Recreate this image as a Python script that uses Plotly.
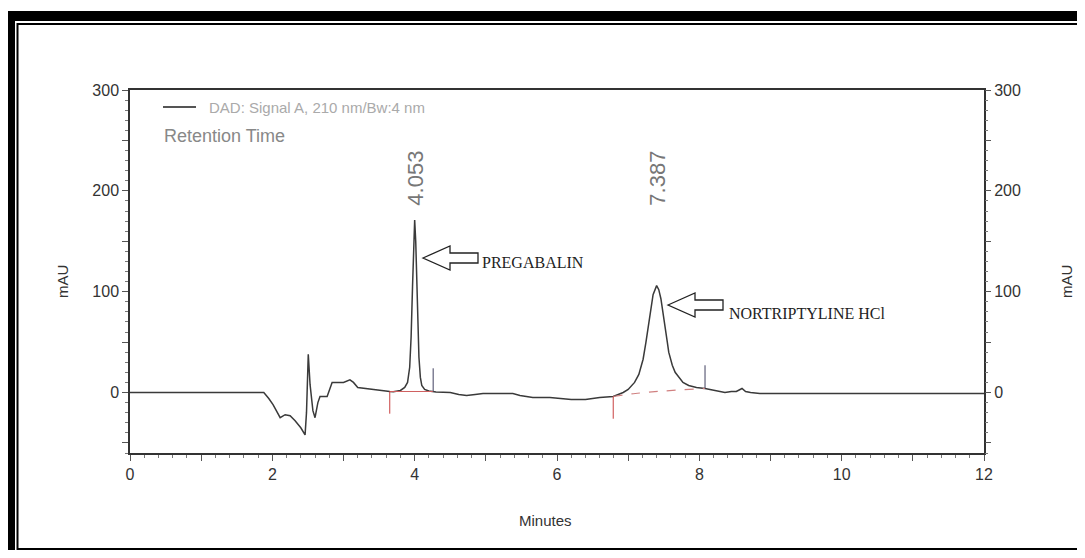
import plotly.graph_objects as go

# ---------------- data ----------------
time_min = [0.00, 1.88, 1.95, 2.01, 2.11, 2.18, 2.25, 2.32, 2.40, 2.46, 2.48, 2.505, 2.53, 2.57, 2.60,
            2.64, 2.67, 2.77, 2.80, 2.84, 2.95, 3.00, 3.09, 3.14, 3.20, 3.35, 3.51, 3.65,
            3.70, 3.80, 3.86, 3.90, 3.93, 3.95, 3.97, 3.985, 4.00, 4.015, 4.03, 4.045, 4.06, 4.08,
            4.10, 4.14, 4.20, 4.30, 4.40, 4.50, 4.62, 4.73, 4.85, 4.96, 5.20, 5.38, 5.48, 5.66,
            5.90, 6.20, 6.40, 6.60, 6.79, 6.93, 7.00, 7.09, 7.15, 7.21, 7.25, 7.28, 7.32, 7.35,
            7.40, 7.43, 7.46, 7.49, 7.52, 7.55, 7.57, 7.62, 7.66, 7.72, 7.77, 7.85, 7.96, 8.08,
            8.20, 8.29, 8.36, 8.45, 8.52, 8.60, 8.65, 8.72, 8.85, 12.00]
signal_mau = [0.0, 0.0, -6.0, -12.0, -25.0, -22.0, -23.0, -28.0, -35.0, -42.0, -20.0, 38.0, 8.0, -18.0, -25.0,
              -10.0, -4.0, -4.0, 2.0, 10.0, 10.0, 10.0, 12.5, 10.0, 5.0, 3.5, 2.5, 1.0,
              0.8, 2.0, 5.0, 10.0, 25.0, 55.0, 105.0, 150.0, 171.0, 150.0, 110.0, 65.0, 35.0, 15.0,
              7.0, 3.0, 1.5, 0.5, 0.0, 0.0, -2.0, -3.0, -2.0, -1.0, -1.0, -1.0, -3.0, -5.0,
              -5.0, -7.0, -7.0, -5.0, -4.0, 0.0, 3.0, 10.0, 18.0, 33.0, 50.0, 65.0, 85.0, 97.0,
              106.0, 102.0, 93.0, 80.0, 65.0, 50.0, 40.0, 27.0, 20.0, 14.0, 10.0, 7.0, 5.0, 4.0,
              2.0, 1.0, 0.0, 1.0, 1.0, 4.0, 1.0, 0.0, -1.0, -1.0]

# integration marks
peak_names = ["PREGABALIN", "NORTRIPTYLINE HCl"]
peak_rt_label = ["4.053", "7.387"]
peak_apex_t = [4.00, 7.40]
int_start_t = [3.65, 6.79]
int_start_v = [1.0, -4.0]
int_end_t = [4.26, 8.08]
int_end_v = [1.0, 4.0]
baseline2_t = [6.79, 7.10, 7.50, 8.08]
baseline2_v = [-4.0, -1.0, 1.5, 4.0]

x_ticks = list(range(0, 13))
x_tick_text = [str(v) if v % 2 == 0 else "" for v in x_ticks]
y_ticks = [-50, 0, 50, 100, 150, 200, 250, 300]
y_tick_text = ["", "0", "", "100", "", "200", "", "300"]

# ---------------- layout geometry (page pixels; page body has an 8px margin) ----------------
O = 8
W, H = 1069, 542
L, R, T, B = 130, 984, 90, 453


def px(x):
    return (x - L) / (R - L)


def py(y):
    return (B - y) / (B - T)


fig = go.Figure()

fig.add_trace(go.Scatter(x=time_min, y=signal_mau, mode="lines",
                         line=dict(color="#3a3a3a", width=1.5), hoverinfo="x+y", showlegend=False))
# invisible copy on the right axis so it renders its labels
fig.add_trace(go.Scatter(x=time_min, y=signal_mau, mode="lines", yaxis="y2",
                         line=dict(color="rgba(0,0,0,0)", width=0), hoverinfo="skip", showlegend=False))

# integration baselines and markers
fig.add_trace(go.Scatter(x=[int_start_t[0], int_end_t[0]], y=[int_start_v[0], int_end_v[0]], mode="lines",
                         line=dict(color="#d06060", width=1), hoverinfo="skip", showlegend=False))
fig.add_trace(go.Scatter(x=baseline2_t, y=baseline2_v, mode="lines", line_shape="spline",
                         line=dict(color="#d08080", width=1.2, dash="dash"), hoverinfo="skip", showlegend=False))
for i in range(2):
    fig.add_trace(go.Scatter(x=[int_start_t[i], int_start_t[i]], y=[int_start_v[i], int_start_v[i] - 22],
                             mode="lines", line=dict(color="#c84040", width=1), hoverinfo="skip", showlegend=False))
    fig.add_trace(go.Scatter(x=[int_end_t[i], int_end_t[i]], y=[int_end_v[i], int_end_v[i] + 23],
                             mode="lines", line=dict(color="#404060", width=1), hoverinfo="skip", showlegend=False))

axis_font = dict(family="Liberation Sans, Arial, sans-serif", size=16, color="#333")

shapes = [
    # picture frame
    dict(type="rect", xref="paper", yref="paper", x0=px(8), x1=px(1110), y0=py(11), y1=py(580),
         fillcolor="black", line=dict(width=0), layer="below"),
    dict(type="rect", xref="paper", yref="paper", x0=px(15), x1=px(1110), y0=py(21), y1=py(554.5),
         fillcolor="white", line=dict(width=0), layer="below"),
    dict(type="rect", xref="paper", yref="paper", x0=px(17.5), x1=px(1110), y0=py(24), y1=py(549),
         fillcolor="rgba(0,0,0,0)", line=dict(color="black", width=2), layer="below"),
    # legend sample
    dict(type="line", xref="paper", yref="paper", x0=px(163), x1=px(196), y0=py(107), y1=py(107),
         line=dict(color="#555", width=2)),
]


def arrow_path(tip_x, tip_y):
    pts = [(tip_x, tip_y), (tip_x + 27, tip_y - 12), (tip_x + 27, tip_y - 5), (tip_x + 55, tip_y - 5),
           (tip_x + 55, tip_y + 5), (tip_x + 27, tip_y + 5), (tip_x + 27, tip_y + 12)]
    s = "M " + " L ".join(f"{px(a):.5f} {py(b):.5f}" for a, b in pts) + " Z"
    return s


arrow_tips = [(423, 258), (668, 305)]
for tx, ty in arrow_tips:
    shapes.append(dict(type="path", xref="paper", yref="paper", path=arrow_path(tx, ty),
                       fillcolor="white", line=dict(color="#222", width=1.3)))

annotations = [
    dict(x=px(207), y=py(107), xref="paper", yref="paper", text="DAD: Signal A, 210 nm/Bw:4 nm",
         showarrow=False, xanchor="left", yanchor="middle",
         font=dict(family="Liberation Sans, Arial, sans-serif", size=15, color="#aaaaaa")),
    dict(x=px(162), y=py(136), xref="paper", yref="paper", text="Retention Time",
         showarrow=False, xanchor="left", yanchor="middle",
         font=dict(family="Liberation Sans, Arial, sans-serif", size=18, color="#888888")),
    dict(x=px(62), y=py(282), xref="paper", yref="paper", text="mAU", textangle=-90,
         showarrow=False, xanchor="center", yanchor="middle", font=dict(**{**axis_font, "size": 15})),
    dict(x=px(1066), y=py(282), xref="paper", yref="paper", text="mAU", textangle=-90,
         showarrow=False, xanchor="center", yanchor="middle", font=dict(**{**axis_font, "size": 15})),
    dict(x=px(545), y=py(520), xref="paper", yref="paper", text="Minutes",
         showarrow=False, xanchor="center", yanchor="middle", font=dict(**{**axis_font, "size": 15})),
]
# retention time labels above apexes
for t_apex, lab in zip(peak_apex_t, peak_rt_label):
    annotations.append(dict(x=t_apex, y=py(178), xref="x", yref="paper", text=lab, textangle=-90,
                            showarrow=False, xanchor="center", yanchor="middle",
                            font=dict(family="Liberation Sans, Arial, sans-serif", size=22, color="#777")))
# compound names
name_pos = [(480, 262), (727, 313)]
name_size = [16, 16]
for (nx, ny), nm, sz in zip(name_pos, peak_names, name_size):
    annotations.append(dict(x=px(nx), y=py(ny), xref="paper", yref="paper", text=nm, showarrow=False,
                            xanchor="left", yanchor="middle",
                            font=dict(family="Liberation Serif, Times New Roman, serif", size=sz, color="#222")))

fig.update_layout(
    width=W, height=H,
    margin=dict(l=L - O, r=(W + O) - R, t=T - O, b=(H + O) - B, pad=0),
    paper_bgcolor="white", plot_bgcolor="white",
    showlegend=False,
    shapes=shapes, annotations=annotations,
    xaxis=dict(range=[0, 12], tickmode="array", tickvals=x_ticks, ticktext=x_tick_text,
               ticks="outside", ticklen=6, tickcolor="#555", showgrid=False, zeroline=False,
               showline=True, linecolor="#333", linewidth=1.5, mirror=True, tickfont=axis_font,
               minor=dict(dtick=0.2, ticks="outside", ticklen=3, tickcolor="#777", showgrid=False)),
    yaxis=dict(range=[-60, 300], tickmode="array", tickvals=y_ticks, ticktext=y_tick_text,
               ticks="outside", ticklen=6, tickcolor="#555", showgrid=False, zeroline=False,
               showline=True, linecolor="#333", linewidth=1.5, mirror=True, tickfont=axis_font,
               minor=dict(dtick=10, ticks="outside", ticklen=3, tickcolor="#777", showgrid=False)),
    yaxis2=dict(range=[-60, 300], overlaying="y", side="right", tickmode="array", tickvals=y_ticks,
                ticktext=y_tick_text, ticks="outside", ticklen=6, tickcolor="#555", showgrid=False,
                zeroline=False, showline=False, tickfont=axis_font,
                minor=dict(dtick=10, ticks="outside", ticklen=3, tickcolor="#777", showgrid=False)),
)

fig.write_html("out.html")
